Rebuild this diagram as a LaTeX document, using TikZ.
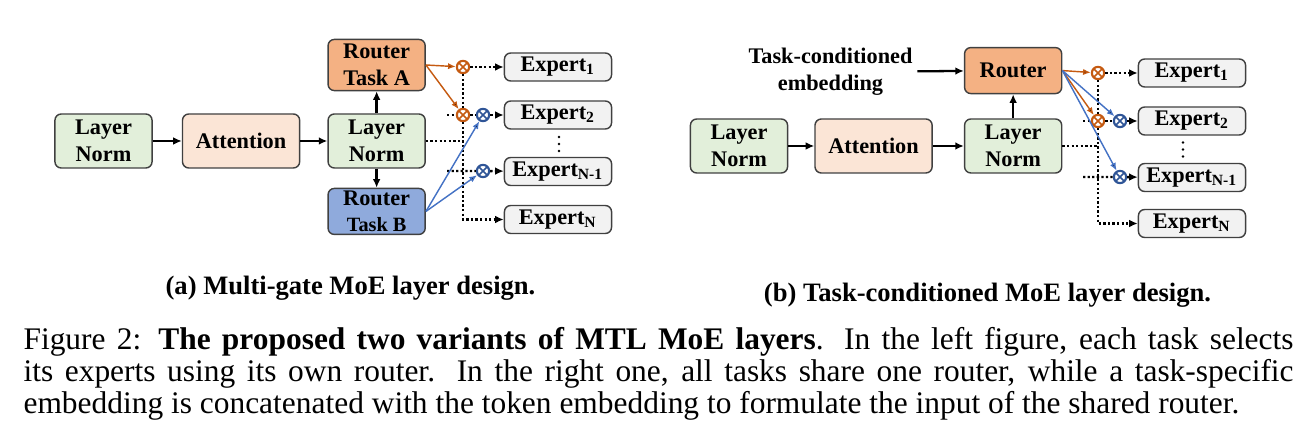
\documentclass[tikz,border=0pt]{standalone}
\usepackage{fontspec}
\setmainfont{Liberation Serif}
\usetikzlibrary{positioning}
\usetikzlibrary{arrows.meta}
\definecolor{normfill}{HTML}{E2EFDA}
\definecolor{attnfill}{HTML}{FBE5D6}
\definecolor{routerorange}{HTML}{F4B183}
\definecolor{routerblue}{HTML}{8FAADC}
\definecolor{expertfill}{HTML}{F2F2F2}
\definecolor{gateorange}{HTML}{C55A11}
\definecolor{lineblue}{HTML}{4472C4}
\definecolor{gateblue}{HTML}{2F5597}
\definecolor{boxedge}{HTML}{404040}
\tikzset{tips=proper}
\tikzset{%
    diagbox/.style={rectangle, draw=boxedge, line width=0.5pt, rounded corners=2.2pt, inner sep=0pt, align=center},
    normbox/.style={diagbox, fill=normfill, minimum width=34pt, minimum height=18.9pt},
    attnbox/.style={diagbox, fill=attnfill, minimum width=41pt, minimum height=18.9pt},
    routerbox/.style={diagbox, minimum width=34pt, minimum height=16.1pt},
    expertbox/.style={diagbox, fill=expertfill, minimum width=37.5pt, minimum height=9.8pt},
    gate/.style={circle, draw=#1, line width=0.75pt, fill=white, minimum size=4.3pt, inner sep=0pt,
        path picture={\draw[#1, line width=0.6pt]
            (path picture bounding box.north west) -- (path picture bounding box.south east)
            (path picture bounding box.north east) -- (path picture bounding box.south west);}},
    arrow/.style={draw, line width=0.8pt, -{Latex[length=3pt, width=2.7pt]}},
    dotline/.style={draw, line width=0.85pt, dash pattern=on 0.8pt off 0.8pt},
    dotarrow/.style={dotline, -{Latex[length=3pt, width=2.7pt]}},
    skipdots/.style={draw, line width=1pt, line cap=round, dash pattern=on 0pt off 2.45pt},
    orangearrow/.style={draw=gateorange, line width=0.5pt, -{Latex[length=2.7pt, width=2.2pt]}},
    bluearrow/.style={draw=lineblue, line width=0.5pt, -{Latex[length=2.7pt, width=2.2pt]}}
}
\begin{document}
\begin{tikzpicture}[x=0.35pt, y=-0.35pt]
	\tikzstyle{every node}=[font=\fontsize{7.8}{9.3}\selectfont\bfseries]
	\useasboundingbox (0,0) rectangle (1314,443);

	% (a) one router per task
	\node[normbox]                      (lnA)   at (103.5,141)          {Layer\\Norm};
	\node[attnbox]                      (attA)  [right=10.15pt of lnA]  {Attention};
	\node[normbox]                      (lnB)   [right=9.45pt of attA]  {Layer\\Norm};
	\node[routerbox,fill=routerorange,minimum height=17.9pt] (routA) [above=7.7pt of lnB] {Router\\Task A};
	\node[routerbox,fill=routerblue]    (routB) [below=6.65pt of lnB]   {Router\\{\fontsize{7.1}{8}\selectfont Task B}};

	\node[expertbox] (eA1) at (558,67)    {Expert\textsubscript{1}};
	\node[expertbox] (eA2) at (558,115)   {Expert\textsubscript{2}};
	\node[expertbox] (eA3) at (558,171.5) {Expert\textsubscript{N-1}};
	\node[expertbox] (eA4) at (558,219.5) {Expert\textsubscript{N}};
	\draw[skipdots] (559,137) -- (559,152);

	\node[gate=gateorange] (gA1) at (463,67)  {};
	\node[gate=gateorange] (gA2) at (463,115) {};
	\node[gate=gateblue]   (gB1) at (483,115) {};
	\node[gate=gateblue]   (gB2) at (483,171) {};
	\coordinate (inA2) at (447,115);
	\coordinate (inA3) at (447,171);

	\path[arrow]
	(lnA)   edge (attA)
	(attA)  edge (lnB)
	(lnB)   edge (routA)
	(lnB)   edge (routB);

	\path[dotline]
	(lnB.east) edge (lnB.east -| gA1.center)
	(gA1)      edge (gA2);
	\draw[dotarrow] (gA2) |- (eA4);
	\draw[dotarrow] (gA1) -- (eA1);
	\draw[dotarrow] (inA2) -- (gA2) -- (gB1) -- (eA2);
	\draw[dotarrow] (inA3) -- (gB2) -- (eA3);

	\path[orangearrow] (routA.east) edge (gA1) (routA.east) edge (gA2);
	\path[bluearrow]   (routB.east) edge (gB1) (routB.east) edge (gB2);

	% (b) one shared router
	\node[normbox]                      (lnC)   at (739,146)            {Layer\\Norm};
	\node[attnbox]                      (attB)  [right=9.1pt of lnC]    {Attention};
	\node[normbox]                      (lnD)   [right=10.85pt of attB] {Layer\\Norm};
	\node[routerbox,fill=routerorange]  (rout)  [above=8.4pt of lnD]    {Router};
	\node[align=center,inner sep=1.5pt] (emb)   at (830.5,72)           {Task-conditioned\\embedding};

	\node[expertbox] (eB1) at (1192,73)    {Expert\textsubscript{1}};
	\node[expertbox] (eB2) at (1192,121)   {Expert\textsubscript{2}};
	\node[expertbox] (eB3) at (1192,177.5) {Expert\textsubscript{N-1}};
	\node[expertbox] (eB4) at (1192,223.5) {Expert\textsubscript{N}};
	\draw[skipdots] (1183,142.5) -- (1183,157);

	\node[gate=gateorange] (gC1) at (1098,73)  {};
	\node[gate=gateorange] (gC2) at (1098,121) {};
	\node[gate=gateblue]   (gD1) at (1120,121) {};
	\node[gate=gateblue]   (gD2) at (1120,177) {};
	\coordinate (inB2) at (1083,121);
	\coordinate (inB3) at (1083,177);

	\path[arrow]
	(lnC)   edge (attB)
	(attB)  edge (lnD)
	(lnD)   edge (rout)
	(emb)   edge (rout);

	\path[dotline]
	(lnD.east) edge (lnD.east -| gC1.center)
	(gC1)      edge (gC2);
	\draw[dotarrow] (gC2) |- (eB4);
	\draw[dotarrow] (gC1) -- (eB1);
	\draw[dotarrow] (inB2) -- (gC2) -- (gD1) -- (eB2);
	\draw[dotarrow] (inB3) -- (gD2) -- (eB3);

	\path[orangearrow] (rout.east) edge (gC1) (rout.east) edge (gC2);
	\path[bluearrow]   (rout.east) edge (gD1) (rout.east) edge (gD2);

	% captions
	\node[anchor=base,font=\fontsize{9.3}{11}\selectfont\bfseries] (capA) at (350.5,295) {(a) Multi-gate MoE layer design.};
	\node[anchor=base,font=\fontsize{9.3}{11}\selectfont\bfseries] (capB) at (987.5,301.7) {(b) Task-conditioned MoE layer design.};
	\node[anchor=base west,text width=444.5pt,align=justify,inner sep=0pt,font=\fontsize{11}{9.7}\selectfont] (fig) at (23,350)
	{Figure 2: \textbf{The proposed two variants of MTL MoE layers}. In the left figure, each task selects\linebreak
	its experts using its own router. In the right one, all tasks share one router, while a task-specific\linebreak
	embedding is concatenated with the token embedding to formulate the input of the shared router.};
\end{tikzpicture}
\end{document}
